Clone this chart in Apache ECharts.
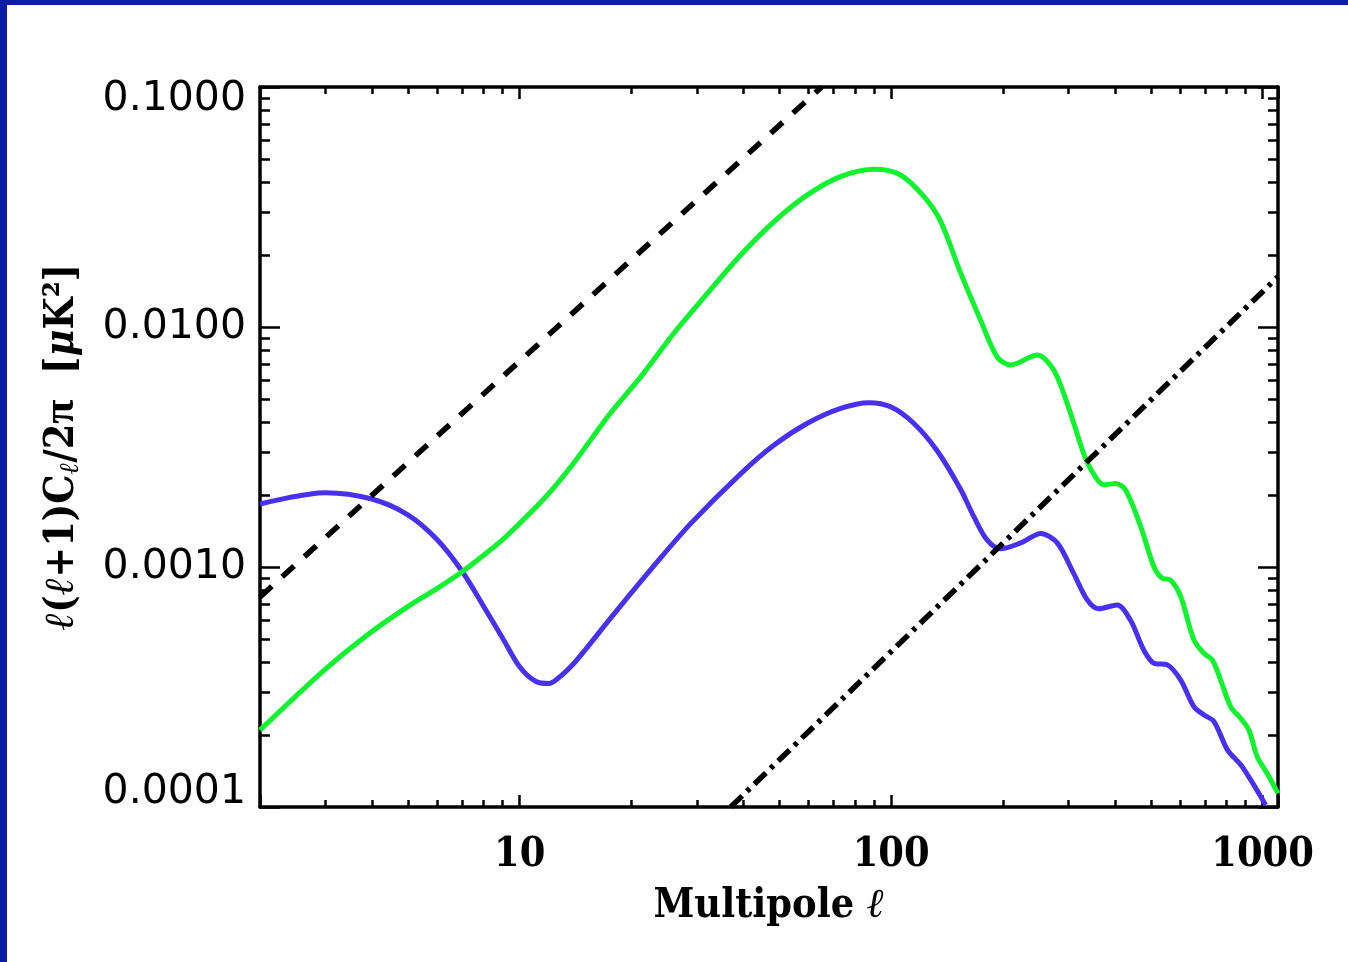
<!DOCTYPE html>
<html>
<head>
<meta charset="utf-8">
<title>Polarization power spectra</title>
<script src="https://cdn.jsdelivr.net/npm/echarts@6/dist/echarts.min.js"></script>
<style>
  html, body { margin: 0; padding: 0; background: #fff; }
  #frame { position: absolute; left: 0; top: 0; width: 1348px; height: 962px; background: #fff; overflow: hidden; }
  #chart { position: absolute; left: 0; top: 0; width: 1348px; height: 962px; }
  .edge { position: absolute; background: #0b1ca6; }
</style>
</head>
<body>
<div id="frame">
  <div id="chart"></div>
  <div class="edge" style="left:0;top:0;width:1348px;height:5px"></div>
  <div class="edge" style="left:0;top:0;width:7px;height:962px"></div>
</div>
<script>
// Axis ranges
const xMin = 2, xMax = 1100;
const yMin = 1e-4, yMax = 0.1;

// Tick positions and labels
const xMajorTicks = [10, 100, 1000];
const xTickLabels = ['10', '100', '1000'];
const xMinorTicks = [3, 4, 5, 6, 7, 8, 9, 20, 30, 40, 50, 60, 70, 80, 90, 200, 300, 400, 500, 600, 700, 800, 900];
const yMajorTicks = [1e-4, 1e-3, 1e-2, 1e-1];
const yTickLabels = ['0.0001', '0.0010', '0.0100', '0.1000'];
const yMinorTicks = [2e-4, 3e-4, 4e-4, 5e-4, 6e-4, 7e-4, 8e-4, 9e-4,
                     2e-3, 3e-3, 4e-3, 5e-3, 6e-3, 7e-3, 8e-3, 9e-3,
                     2e-2, 3e-2, 4e-2, 5e-2, 6e-2, 7e-2, 8e-2, 9e-2];

// E-mode spectrum (green)
const greenEll = [2, 3, 4, 5, 6, 7, 8, 9, 10, 11, 12, 14, 17.5, 21.2, 26, 32, 39.4, 48.4, 59.5, 73, 90, 106, 122.6,
                  136, 153.8, 174, 193, 209.8, 247.5, 274, 300, 329, 345.4, 374, 402, 428, 470, 510, 537,
                  565, 602, 653, 695, 732, 771, 820, 873, 919, 967, 1029, 1100];
const greenCl  = [2.09e-4, 3.75e-4, 5.38e-4, 6.84e-4, 8.15e-4, 9.56e-4, 1.12e-3, 1.30e-3, 1.52e-3, 1.76e-3, 2.03e-3,
                  2.72e-3, 4.35e-3, 6.21e-3, 9.42e-3, 1.38e-2, 2.0e-2, 2.75e-2, 3.55e-2, 4.23e-2, 4.54e-2, 4.30e-2,
                  3.49e-2, 2.75e-2, 1.68e-2, 1.07e-2, 7.5e-3, 6.95e-3, 7.64e-3, 6.62e-3, 4.65e-3, 3.0e-3,
                  2.54e-3, 2.20e-3, 2.23e-3, 2.09e-3, 1.47e-3, 1.00e-3, 8.97e-4, 8.83e-4, 7.52e-4, 4.97e-4, 4.37e-4,
                  4.10e-4, 3.38e-4, 2.62e-4, 2.34e-4, 2.09e-4, 1.62e-4, 1.38e-4, 1.14e-4];

// B-mode spectrum (blue)
const blueEll = [2, 3, 4, 5, 6, 7, 8, 9, 10, 11, 12, 13, 14, 15, 18, 23.7, 28.9, 39.4, 48.4, 59.5, 73.1, 87.2, 99.7,
                 115, 133, 154, 167, 181, 197, 223, 253, 280, 310, 337, 362, 406, 441, 479, 510, 554, 602, 653,
                 695, 740, 804, 873, 928, 1019];
const blueCl  = [1.83e-3, 2.04e-3, 1.92e-3, 1.65e-3, 1.30e-3, 9.6e-4, 6.85e-4, 5.05e-4, 3.84e-4, 3.35e-4, 3.27e-4,
                 3.55e-4, 3.97e-4, 4.51e-4, 6.41e-4, 1.07e-3, 1.52e-3, 2.45e-3, 3.22e-3, 3.97e-3, 4.58e-3, 4.84e-3,
                 4.65e-3, 3.97e-3, 3.05e-3, 2.1e-3, 1.62e-3, 1.30e-3, 1.19e-3, 1.26e-3, 1.38e-3, 1.26e-3, 9.4e-4,
                 7.3e-4, 6.7e-4, 6.95e-4, 6.0e-4, 4.5e-4, 3.97e-4, 3.91e-4, 3.38e-4, 2.62e-4, 2.42e-4, 2.27e-4,
                 1.73e-4, 1.50e-4, 1.30e-4, 1.02e-4];

// Power-law reference lines
const dashedEll  = [2, 65];
const dashedCl   = [7.5e-4, 0.1];
const dashDotEll = [37, 1100];
const dashDotCl  = [1e-4, 0.0162];

const zip = (xs, ys) => xs.map((x, i) => [x, ys[i]]);
const sameLog = (a, b) => Math.abs(Math.log10(a) - Math.log10(b)) < 1e-6;

const sansFont = 'DejaVu Sans';
const serifFont = 'DejaVu Serif Condensed';

const frameLine = { show: true, onZero: false, lineStyle: { color: '#000', width: 3.5 } };
const noLine = { show: false, onZero: false };

function logAxisX(position, showLabels) {
  return {
    type: 'log', logBase: 10, min: xMin, max: xMax, position: position,
    axisLine: frameLine,
    axisTick: { show: true, inside: true, length: 12, lineStyle: { color: '#000', width: 2.5 } },
    minorTick: { show: false },
    splitLine: { show: false },
    axisLabel: showLabels ? {
      show: true, margin: 28, color: '#000',
      fontFamily: serifFont, fontWeight: 'bold', fontSize: 41,
      formatter: function (v) {
        const i = xMajorTicks.findIndex(t => sameLog(t, v));
        return i < 0 ? '' : xTickLabels[i];
      }
    } : { show: false }
  };
}

function minorAxisX(position) {
  return {
    type: 'value', min: Math.log10(xMin), max: Math.log10(xMax), position: position,
    axisLine: noLine,
    axisTick: { show: true, inside: true, length: 7, lineStyle: { color: '#000', width: 2.5 },
                customValues: xMinorTicks.map(Math.log10) },
    axisLabel: { show: false },
    splitLine: { show: false }
  };
}

function logAxisY(position, showLabels) {
  const labelFont = { fontFamily: sansFont, fontSize: 41, color: '#000' };
  return {
    type: 'log', logBase: 10, min: yMin, max: yMax, position: position,
    axisLine: frameLine,
    axisTick: { show: true, inside: true, length: 20, lineStyle: { color: '#000', width: 2.5 } },
    minorTick: { show: false },
    splitLine: { show: false },
    axisLabel: showLabels ? Object.assign({
      show: true, margin: 14,
      formatter: function (v) {
        const i = yMajorTicks.findIndex(t => sameLog(t, v));
        if (i < 0) return '';
        if (i === yMajorTicks.length - 1) return '{hi|' + yTickLabels[i] + '}';
        if (i === 0) return '{lo|' + yTickLabels[i] + '}';
        return yTickLabels[i];
      },
      rich: {
        hi: Object.assign({ padding: [24, 0, 0, 0] }, labelFont),
        lo: Object.assign({ padding: [0, 0, 30, 0] }, labelFont)
      }
    }, labelFont) : { show: false }
  };
}

function minorAxisY(position) {
  return {
    type: 'value', min: Math.log10(yMin), max: Math.log10(yMax), position: position,
    axisLine: noLine,
    axisTick: { show: true, inside: true, length: 10, lineStyle: { color: '#000', width: 2.5 },
                customValues: yMinorTicks.map(Math.log10) },
    axisLabel: { show: false },
    splitLine: { show: false }
  };
}

const xMain = logAxisX('bottom', true);
xMain.name = 'Multipole {i|ℓ}';
xMain.nameLocation = 'middle';
xMain.nameGap = 79;
xMain.nameTextStyle = {
  fontFamily: serifFont, fontWeight: 'bold', fontSize: 41, color: '#000',
  rich: { i: { fontFamily: serifFont, fontWeight: 'bold', fontStyle: 'italic', fontSize: 41, color: '#000' } }
};

const yMain = logAxisY('left', true);
yMain.name = '{i|ℓ}({i|ℓ}+1)C{sub|ℓ}/2{pi|π}  [{i|μ}K²]';
yMain.nameLocation = 'middle';
yMain.nameGap = 176;
yMain.nameTextStyle = {
  fontFamily: serifFont, fontWeight: 'bold', fontSize: 41, color: '#000',
  rich: {
    i: { fontFamily: serifFont, fontWeight: 'bold', fontStyle: 'italic', fontSize: 41, color: '#000' },
    sub: { fontFamily: serifFont, fontWeight: 'bold', fontStyle: 'italic', fontSize: 27, color: '#000', verticalAlign: 'bottom' },
    pi: { fontFamily: 'Liberation Serif', fontWeight: 'bold', fontSize: 44, color: '#000' }
  }
};

const curveSmooth = 0.3;

const chart = echarts.init(document.getElementById('chart'), null, { renderer: 'canvas' });
chart.setOption({
  animation: false,
  backgroundColor: '#fff',
  grid: { left: 260, top: 87, width: 1018, height: 720, containLabel: false, outerBoundsMode: 'none' },
  xAxis: [xMain, logAxisX('top', false), minorAxisX('bottom'), minorAxisX('top')],
  yAxis: [yMain, logAxisY('right', false), minorAxisY('left'), minorAxisY('right')],
  series: [
    {
      name: 'B', type: 'line', xAxisIndex: 0, yAxisIndex: 0,
      data: zip(blueEll, blueCl), showSymbol: false, symbol: 'none', smooth: curveSmooth,
      lineStyle: { color: '#4730ee', width: 5 }, z: 3
    },
    {
      name: 'E', type: 'line', xAxisIndex: 0, yAxisIndex: 0,
      data: zip(greenEll, greenCl), showSymbol: false, symbol: 'none', smooth: curveSmooth,
      lineStyle: { color: '#0ef52e', width: 5 }, z: 4
    },
    {
      name: 'dashed', type: 'line', xAxisIndex: 0, yAxisIndex: 0,
      data: zip(dashedEll, dashedCl), showSymbol: false, symbol: 'none',
      lineStyle: { color: '#000', width: 5.5, type: [16, 14], cap: 'butt' }, z: 5
    },
    {
      name: 'dashdot', type: 'line', xAxisIndex: 0, yAxisIndex: 0,
      data: zip(dashDotEll, dashDotCl), showSymbol: false, symbol: 'none',
      lineStyle: { color: '#000', width: 5.5, type: [16, 6.5, 4, 6.5], cap: 'butt' }, z: 5
    }
  ]
});
</script>
</body>
</html>
